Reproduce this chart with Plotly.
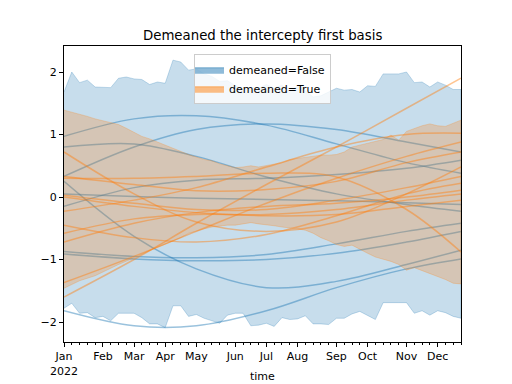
import pandas as pd
import plotly.graph_objects as go

# ---------------- data ----------------
weeks = pd.date_range("2022-01-02", periods=52, freq="7D")

blue_upper = [1.68, 2.00, 1.83, 1.87, 1.76, 1.75, 1.75, 1.90, 1.92, 1.89, 1.88, 1.80, 1.84, 1.82,
              2.19, 2.16, 2.03, 2.05, 1.97, 1.93, 1.85, 1.86, 1.78, 1.71, 1.75, 1.74, 1.80, 1.74,
              1.79, 1.68, 1.78, 1.70, 1.60, 1.62, 1.68, 1.74, 1.71, 1.72, 1.68, 1.78, 1.77, 1.97,
              1.97, 1.97, 2.00, 1.83, 1.84, 1.76, 1.84, 1.79, 1.72, 1.72]
blue_lower = [-1.78, -1.70, -1.86, -1.85, -1.93, -1.91, -1.98, -1.86, -1.86, -1.86, -1.93, -2.03,
              -2.03, -2.09, -1.74, -1.74, -1.91, -1.88, -1.94, -1.98, -2.02, -1.89, -1.86, -1.86,
              -2.06, -2.05, -2.02, -2.07, -1.93, -1.96, -1.95, -1.90, -2.03, -2.03, -2.04, -1.94,
              -1.94, -1.87, -1.83, -1.89, -1.96, -1.69, -1.69, -1.69, -1.69, -1.86, -1.82, -1.89,
              -1.82, -1.85, -1.91, -1.94]
orange_upper = [1.39, 1.36, 1.32, 1.29, 1.25, 1.22, 1.20, 1.16, 1.10, 1.03, 0.97, 0.93, 0.88, 0.82,
                0.77, 0.72, 0.68, 0.64, 0.60, 0.58, 0.53, 0.50, 0.47, 0.48, 0.50, 0.48, 0.50, 0.53,
                0.55, 0.60, 0.62, 0.63, 0.65, 0.67, 0.67, 0.68, 0.72, 0.80, 0.83, 0.86, 0.88, 0.92,
                0.99, 0.91, 1.05, 1.10, 1.14, 1.17, 1.14, 1.13, 1.18, 1.23]
orange_lower = [-1.46, -1.40, -1.34, -1.30, -1.26, -1.20, -1.14, -1.08, -1.02, -0.97, -0.92, -0.86,
                -0.80, -0.76, -0.70, -0.65, -0.58, -0.55, -0.51, -0.48, -0.46, -0.45, -0.45, -0.43,
                -0.41, -0.43, -0.45, -0.46, -0.48, -0.50, -0.51, -0.53, -0.58, -0.65, -0.70, -0.76,
                -0.79, -0.77, -0.83, -0.90, -0.96, -0.99, -1.03, -1.08, -1.17, -1.13, -1.17, -1.22,
                -1.27, -1.32, -1.38, -1.39]

# sample curves, read at a few dates
curve_dates = ["2022-01-02", "2022-03-06", "2022-05-01", "2022-07-03", "2022-09-04", "2022-11-06", "2022-12-25"]
blue_curves = [
    [0.97, 1.25, 1.30, 1.15, 0.85, 0.55, 0.38],
    [0.80, 0.85, 0.65, 0.32, 0.05, -0.12, -0.23],
    [0.33, 0.80, 1.08, 1.17, 1.08, 0.88, 0.72],
    [-0.15, 0.15, 0.27, 0.30, 0.36, 0.46, 0.59],
    [0.05, 0.01, -0.02, -0.04, -0.06, -0.09, -0.12],
    [0.25, -0.63, -1.15, -1.45, -1.35, -1.08, -0.85],
    [-0.87, -0.95, -0.97, -0.92, -0.75, -0.55, -0.42],
    [-0.91, -0.99, -1.02, -1.00, -0.90, -0.72, -0.55],
    [-1.82, -2.06, -2.06, -1.82, -1.45, -1.15, -0.99],
]
orange_curves = [
    [-1.60, -1.00, -0.42, 0.20, 0.80, 1.42, 1.90],
    [-1.37, -0.95, -0.55, -0.10, 0.30, 0.65, 0.88],
    [0.72, 0.05, -0.40, -0.55, -0.40, 0.05, 0.48],
    [0.30, 0.30, 0.33, 0.38, 0.32, -0.20, -0.88],
    [0.33, 0.20, 0.10, 0.12, 0.25, 0.55, 0.72],
    [0.03, -0.10, -0.20, -0.20, -0.05, 0.15, 0.33],
    [-0.23, -0.05, 0.15, 0.48, 0.80, 1.00, 1.02],
    [-0.45, -0.65, -0.72, -0.60, -0.30, 0.05, 0.22],
    [-0.72, -0.42, -0.25, -0.15, -0.10, 0.00, 0.11],
    [0.00, -0.15, -0.25, -0.30, -0.28, -0.15, -0.05],
    [-0.58, -0.35, -0.28, -0.28, -0.20, -0.05, 0.05],
]

tick_dates = ["2022-01-02", "2022-02-06", "2022-03-06", "2022-04-03", "2022-05-01", "2022-06-05",
              "2022-07-03", "2022-07-31", "2022-09-04", "2022-10-02", "2022-11-06", "2022-12-04"]
tick_labels = ["Jan<br>2022", "Feb", "Mar", "Apr", "May", "Jun", "Jul", "Aug", "Sep", "Oct", "Nov", "Dec"]

labels = ["demeaned=False", "demeaned=True"]
BLUE = (31, 119, 180)
ORANGE = (255, 127, 14)


def rgba(c, a):
    return f"rgba({c[0]},{c[1]},{c[2]},{a})"


FONT = "DejaVu Sans"
fig = go.Figure()

x_list = list(weeks)
groups = [(BLUE, blue_upper, blue_lower, blue_curves), (ORANGE, orange_upper, orange_lower, orange_curves)]
for color, up, lo, curves in groups:
    fig.add_trace(go.Scatter(
        x=x_list + x_list[::-1], y=up + lo[::-1], mode="lines", fill="toself",
        fillcolor=rgba(color, 0.25), line=dict(color=rgba(color, 0.25), width=1),
        showlegend=False, hoverinfo="skip"))
    for c in curves:
        fig.add_trace(go.Scatter(
            x=curve_dates, y=c, mode="lines", line=dict(color=rgba(color, 0.45), width=1.5, shape="spline"),
            showlegend=False, hoverinfo="skip"))

for color, name in zip([BLUE, ORANGE], labels):
    fig.add_trace(go.Scatter(
        x=[None], y=[None], mode="lines", fill="toself", fillcolor=rgba(color, 0.5),
        line=dict(color=rgba(color, 0.5), width=1), name=name))

fig.update_layout(
    width=512, height=384,
    margin=dict(l=64, r=51, t=46, b=42, autoexpand=False),
    paper_bgcolor="white", plot_bgcolor="white",
    font=dict(family=FONT, size=11, color="black"),
    legend=dict(x=0.5, xanchor="center", y=0.972, yanchor="top",
                bgcolor="rgba(255,255,255,0.8)", bordercolor="#cccccc", borderwidth=1,
                font=dict(size=11, family=FONT), itemwidth=30, tracegroupgap=0,
                indentation=-6),
    showlegend=True,
    annotations=[
        dict(text="Demeaned the intercepty first basis", xref="paper", yref="paper",
             x=0.5, y=1.035, xanchor="center", yanchor="middle", showarrow=False,
             font=dict(size=13.3, family=FONT, color="black")),
        dict(text="time", xref="paper", yref="paper", x=0.5, y=-0.118,
             xanchor="center", yanchor="middle", showarrow=False,
             font=dict(size=11, family=FONT, color="black")),
    ],
)
fig.update_xaxes(
    type="date", range=[weeks[0], weeks[-1]], automargin=False,
    tickmode="array", tickvals=tick_dates, ticktext=tick_labels,
    ticks="outside", ticklen=4, tickwidth=1, tickcolor="black",
    showline=True, linecolor="black", linewidth=1, mirror=True, showgrid=False, zeroline=False,
    minor=dict(dtick=7 * 86400000, tick0="2022-01-02", ticks="outside", ticklen=2,
               tickcolor="black", showgrid=False),
    tickfont=dict(size=11, family=FONT),
)
fig.update_yaxes(
    range=[-2.32, 2.416], tickvals=[-2, -1, 0, 1, 2], automargin=False,
    ticks="outside", ticklen=4, tickwidth=1, tickcolor="black",
    showline=True, linecolor="black", linewidth=1, mirror=True, showgrid=False, zeroline=False,
    tickfont=dict(size=11, family=FONT),
)

fig.write_html("out.html", config={"displayModeBar": False},
               post_script="document.body.style.margin='0';document.body.style.padding='0';")
